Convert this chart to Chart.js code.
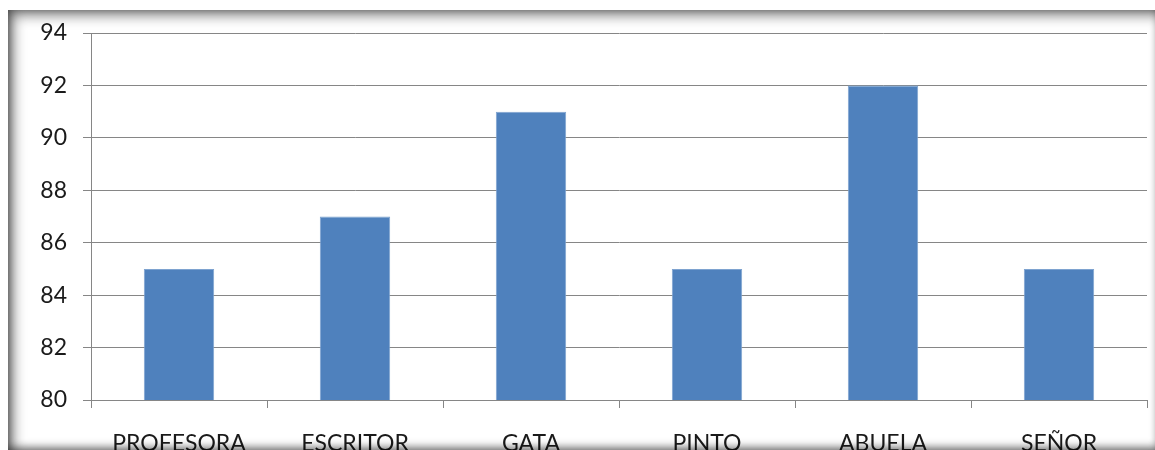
<!DOCTYPE html>
<html>
<head>
<meta charset="utf-8">
<script src="https://cdn.jsdelivr.net/npm/chart.js@4"></script>
<style>
  html, body { margin: 0; padding: 0; background: #fff; }
  .wrap { position: relative; width: 1155px; height: 450px; overflow: hidden; }
  .wrap canvas { position: absolute; left: 0; top: 0; }
  /* soft bevelled frame drawn over the chart */
  .frame {
    position: absolute; left: 8px; top: 10px; width: 1152px; height: 442px;
    box-shadow: inset 4px 4px 14px rgba(0,0,0,0.6), inset -1px -4px 10px rgba(0,0,0,0.55);
    pointer-events: none;
  }
</style>
</head>
<body>
<div class="wrap">
  <canvas class="scores" width="1155" height="450"></canvas>
  <div class="frame"></div>
</div>
<script>
const categories = ['PROFESORA', 'ESCRITOR', 'GATA', 'PINTO', 'ABUELA', 'SEÑOR'];
const scores = [85, 87, 91, 85, 92, 85];
const yMin = 80;
const yMax = 94;
const yStep = 2;

const gridColor = '#868686';
const font = { family: 'Lato', size: 23 };

const nodeOps = {
    qs(selector, scope) {
        return (scope || document).querySelector(selector);
    }
}

new Chart(nodeOps.qs('.scores'), {
    type: 'bar',
    data: {
        labels: categories,
        datasets: [
            {
                data: scores,
                backgroundColor: '#4f81bd',
                borderColor: '#7ea3d0',
                borderWidth: 1,
                categoryPercentage: 1,
                barPercentage: 0.4
            }
        ]
    },
    options: {
        responsive: false,
        animation: false,
        layout: { padding: { top: 33, right: 8, bottom: 0, left: 0 } },
        plugins: { legend: { display: false }, tooltip: { enabled: false } },
        scales: {
            x: {
                afterFit(scale) { scale.height = 50; },
                border: { color: gridColor, width: 1 },
                grid: { offset: true, drawOnChartArea: false, drawTicks: true, tickLength: 8, color: gridColor },
                ticks: { color: '#1a1a1a', font: font, padding: 22, maxRotation: 0 }
            },
            y: {
                min: yMin,
                max: yMax,
                afterFit(scale) { scale.width = 91; },
                border: { color: gridColor, width: 1 },
                grid: { color: gridColor, tickLength: 8 },
                ticks: { stepSize: yStep, color: '#1a1a1a', font: font, padding: 16 }
            }
        }
    }
});
</script>
</body>
</html>
